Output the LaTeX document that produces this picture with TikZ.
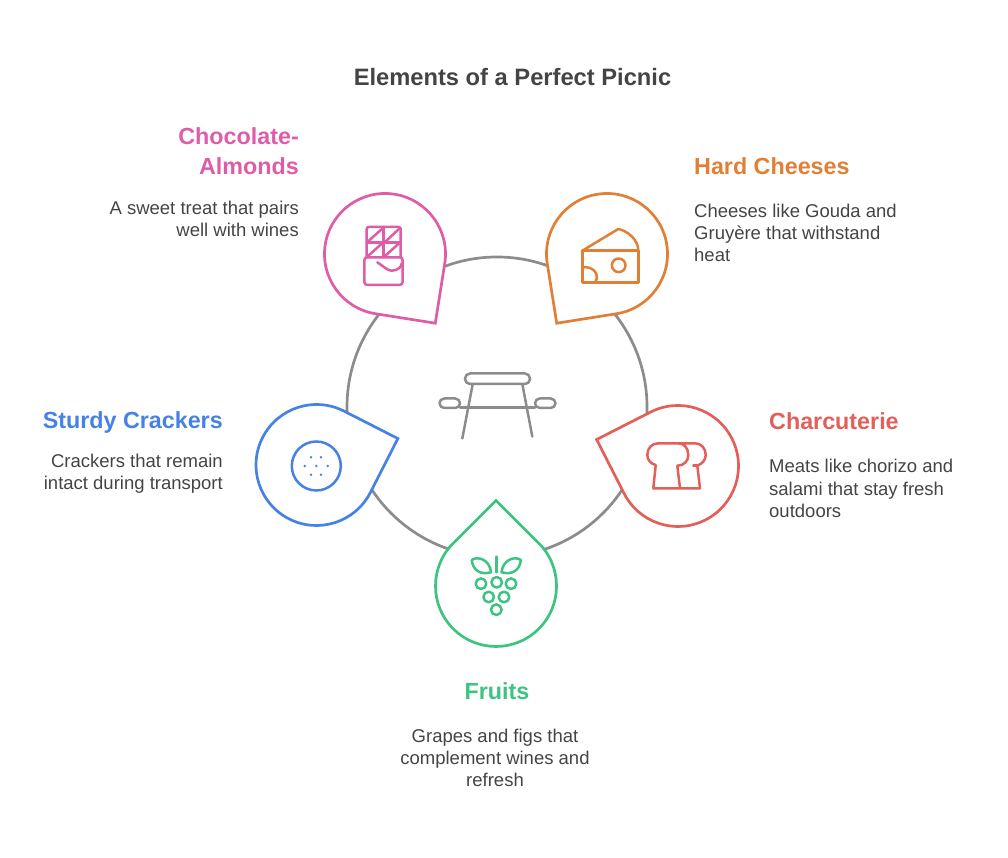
\documentclass[tikz,border=0pt]{standalone}
\usepackage{fontspec}
\setmainfont{Liberation Sans}
\usetikzlibrary{positioning}
\definecolor{pinkc}{HTML}{DF5CA8}
\definecolor{orangec}{HTML}{E07F35}
\definecolor{redc}{HTML}{E35F5A}
\definecolor{greenc}{HTML}{3DC482}
\definecolor{bluec}{HTML}{4682E6}
\definecolor{greyc}{HTML}{8C8C8C}
\definecolor{inkc}{HTML}{444444}
\tikzset{
  pinline/.style={line width=2.7pt,line join=miter,fill=white},
  iconline/.style={line width=2.5pt,line join=round,line cap=round},
  titletext/.style={inner sep=0pt,text=inkc,font=\fontsize{23.7}{27}\selectfont\bfseries},
  headtext/.style={inner sep=0pt,font=\fontsize{23.3}{30}\selectfont\bfseries},
  bodytext/.style={inner sep=0pt,text=inkc,font=\fontsize{18.5}{22.3}\selectfont},
}
% pin: centre, direction of the tip, colour
\newcommand{\picnicpin}[3]{
  \draw[pinline,draw=#3] (#1) ++(#2+45:60.5) arc[start angle=#2+45,end angle=#2+315,radius=60.5]
    -- ([shift={(#2:85.56)}]#1) -- cycle;
}
\begin{document}
\begin{tikzpicture}[x=1pt,y=1pt]
    \useasboundingbox (0,0) rectangle (1008,858);
    \node[circle,draw=greyc,line width=2.7pt,minimum size=300pt,inner sep=0pt] (hub) at (497,451) {};
    \coordinate (pinchoco) at (385,604);
    \coordinate (pincheese) at (607,604);
    \coordinate (pinmeat) at (678,392);
    \coordinate (pinfruit) at (496,272);
    \coordinate (pincracker) at (316.5,393);
    \picnicpin{pinchoco}{-54}{pinkc}
    \picnicpin{pincheese}{234}{orangec}
    \picnicpin{pinmeat}{162}{redc}
    \picnicpin{pinfruit}{90}{greenc}
    \picnicpin{pincracker}{18}{bluec}
    % icons, in the pixels of the page
    \begin{scope}[shift={(0,858)},yscale=-1]
    % table
    \draw[iconline,greyc] (472.7,384) -- (462.3,438.5) (522.3,384) -- (532.3,436.5);
    \draw[iconline,greyc] (460,407.7) -- (535,407.7);
    \draw[iconline,greyc,rounded corners=5pt] (465,373.5) rectangle (530,384);
    \draw[iconline,greyc,rounded corners=4.8pt] (439.5,398.5) rectangle (460,408);
    \draw[iconline,greyc,rounded corners=4.8pt] (535,398.5) rectangle (555.5,408);
    % chocolate
    \draw[iconline,pinkc,rounded corners=2pt] (366.7,257) -- (366.7,227) -- (400.7,227) -- (400.7,257);
    \draw[iconline,pinkc] (383.5,227) -- (383.5,257) (366.7,242.3) -- (400.7,242.3);
    \draw[iconline,pinkc] (368.5,241) -- (383,228) (385,242) -- (399.5,228.5)
      (367.5,256.5) -- (383,242.5) (385,256) -- (400,242.5);
    \draw[iconline,pinkc,rounded corners=3pt] (364.3,257.3) rectangle (402.7,285);
    \draw[iconline,pinkc] (377.3,262.3) -- (386,268.5) .. controls (390,271) and (393,271.5) .. (396,270) .. controls (399,269) and (401,267) .. (401.7,263.3);
    % cheese
    \draw[iconline,orangec] (582.3,250.7) rectangle (638.3,282.7);
    \draw[iconline,orangec] (582.3,250.7) -- (618.3,229) .. controls (628,231) and (638.3,240) .. (638.3,250.7);
    \draw[iconline,orangec] (618.7,265.3) circle[radius=6.8];
    \draw[iconline,orangec] (582.3,267.5) .. controls (591,265.5) and (601,273) .. (595,282.7);
    % bread
    \draw[iconline,redc] (680,488.3) -- (677.3,465.7) .. controls (684,465.7) and (688.3,461) .. (688.3,455)
      .. controls (688.3,448) and (684,443.3) .. (678.3,443.3) -- (658.3,443.3)
      .. controls (652,443.3) and (647.3,448) .. (647.3,455) .. controls (647.3,460) and (651,464) .. (655.7,465)
      -- (653.3,488.3) -- (700,488.3) -- (697.3,465.7) .. controls (702,464) and (705.7,460) .. (705.7,455)
      .. controls (705.7,448) and (701,443.3) .. (695,443.3) -- (678.3,443.3);
    \draw[iconline,redc] (697.3,465.7) -- (693.3,465.7);
    % grapes
    \draw[iconline,greenc] (496.3,556.7) -- (496.3,572.3);
    \draw[iconline,greenc] (471.7,560) .. controls (478,555.5) and (490,560) .. (491,572.3)
      .. controls (481,575) and (473,571) .. (471.7,560);
    \draw[iconline,greenc] (520.9,560) .. controls (514.6,555.5) and (502.6,560) .. (501.6,572.3)
      .. controls (511.6,575) and (519.6,571) .. (520.9,560);
    \foreach \gx/\gy in {481/583.7,496.7/582.3,511/583.7,488.7/597,504/597,496.3/609.7}
      \draw[iconline,greenc] (\gx,\gy) circle[radius=5.3];
    % cracker
    \draw[iconline,bluec] (316.3,466) circle[radius=24.5];
    \foreach \dx/\dy in {311/457.3,321/457.3,304.7/466,316.3/466,327.7/466,311/474.7,321/474.7}
      \fill[bluec] (\dx,\dy) circle[radius=1.4];
    \end{scope}
    % texts
    \node[titletext] (picnictitle) at (512.5,781) {Elements of a Perfect Picnic};
    \node[headtext,text=pinkc,anchor=east,align=right] (chocohead) at (299,707) {Chocolate-\\Almonds};
    \node[bodytext,anchor=east,align=right] (chocobody) at (299,639) {A sweet treat that pairs\\well with wines};
    \node[headtext,text=orangec,anchor=west] (cheesehead) at (694,692) {Hard Cheeses};
    \node[bodytext,anchor=west,align=left] (cheesebody) at (694,625) {Cheeses like Gouda and\\Gruyère that withstand\\heat};
    \node[headtext,text=redc,anchor=west] (meathead) at (769,437) {Charcuterie};
    \node[bodytext,anchor=west,align=left] (meatbody) at (769,369.5) {Meats like chorizo and\\salami that stay fresh\\outdoors};
    \node[headtext,text=bluec,anchor=east] (crackerhead) at (223,435.5) {Sturdy Crackers};
    \node[bodytext,anchor=east,align=right] (crackerbody) at (223,384) {Crackers that remain\\intact during transport};
    \node[headtext,text=greenc] (fruithead) at (497,167) {Fruits};
    \node[bodytext,align=center] (fruitbody) at (495,100) {Grapes and figs that\\complement wines and\\refresh};
\end{tikzpicture}
\end{document}
